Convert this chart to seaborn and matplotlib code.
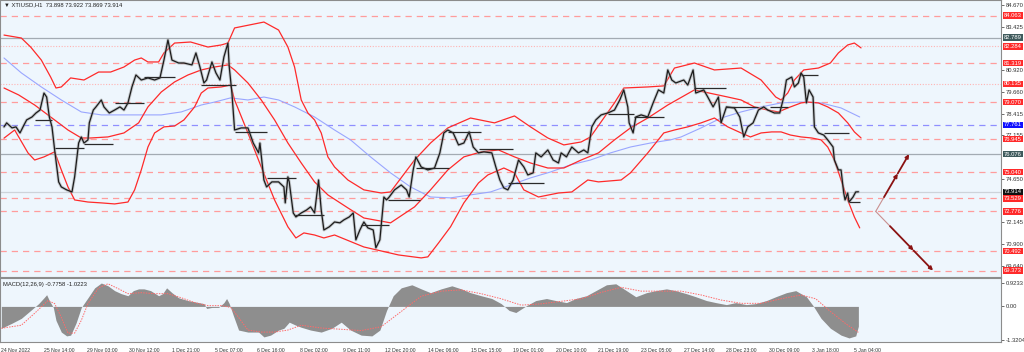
import numpy as np
import pandas as pd
import matplotlib
matplotlib.use("Agg")
import matplotlib.pyplot as plt
import seaborn as sns
from matplotlib.transforms import blended_transform_factory

# ---------------- data ----------------
title_text = "\u25bc XTIUSD,H1  73.898 73.922 73.869 73.914"
macd_text = "MACD(12,26,9) -0.7758 -1.0223"

date_labels = ["24 Nov 2022", "25 Nov 14:00", "29 Nov 03:00", "30 Nov 12:00", "1 Dec 21:00",
               "5 Dec 07:00", "6 Dec 16:00", "8 Dec 02:00", "9 Dec 11:00", "12 Dec 20:00",
               "14 Dec 06:00", "15 Dec 15:00", "19 Dec 01:00", "20 Dec 10:00", "21 Dec 19:00",
               "23 Dec 05:00", "27 Dec 14:00", "28 Dec 23:00", "30 Dec 09:00", "3 Jan 18:00",
               "5 Jan 04:00"]
date_ticks = [0, 32, 64, 96, 128, 160, 192, 224, 256, 288, 320, 352, 384, 416, 448, 480,
              512, 544, 576, 608, 640]

close_bar = [2, 4, 8, 11, 14, 17, 19, 23, 26, 29, 32, 34, 36, 38, 40, 43, 45, 49, 53, 55,
             58, 60, 62, 65, 66, 69, 71, 75, 77, 81, 85, 89, 92, 95, 98, 101, 105, 110, 115, 119,
             122, 125, 128, 133, 137, 143, 146, 149, 152, 154, 158, 161, 164, 167, 170, 171, 173, 175, 180, 185,
             189, 193, 194, 197, 199, 203, 208, 212, 213, 215, 216, 219, 221, 225, 229, 232, 235, 238, 240, 242,
             246, 250, 254, 257, 261, 264, 266, 269, 272, 275, 279, 281, 284, 287, 289, 291, 295, 300, 304, 306,
             309, 311, 315, 320, 325, 329, 332, 335, 339, 343, 347, 351, 354, 358, 362, 368, 371, 374, 377, 380,
             384, 388, 392, 395, 399, 401, 405, 410, 414, 418, 420, 424, 428, 433, 437, 440, 443, 446, 450, 455,
             460, 464, 467, 470, 471, 474, 476, 480, 485, 489, 493, 497, 500, 503, 506, 512, 515, 519, 521, 527,
             530, 534, 538, 540, 544, 550, 554, 557, 560, 564, 568, 572, 575, 580, 584, 587, 589, 593, 595, 598,
             600, 602, 604, 606, 609, 610, 613, 617, 620, 624, 625, 628, 630, 632, 633, 635, 636, 639, 641, 643]
close_price = [77.65, 77.88, 77.59, 77.65, 77.30, 77.76, 78.05, 78.22, 78.45, 78.62, 79.60, 79.37, 78.22, 77.65, 76.32, 74.48, 74.19, 74.02, 73.90, 74.77,
               76.72, 77.07, 76.72, 76.90, 77.88, 78.62, 78.80, 79.20, 78.80, 78.45, 78.62, 78.80, 78.62, 79.03, 79.95, 80.64, 80.35, 80.47, 80.35, 80.47,
               81.50, 82.66, 81.50, 81.33, 81.33, 81.22, 81.91, 81.10, 80.18, 80.35, 81.39, 80.76, 80.35, 81.68, 82.48, 81.10, 79.60, 77.47, 77.59, 77.59,
               76.72, 76.15, 76.72, 74.59, 74.19, 74.48, 74.48, 74.19, 73.27, 74.77, 74.48, 72.69, 72.46, 72.69, 72.86, 73.04, 72.69, 74.59, 72.86, 71.71,
               71.89, 72.17, 72.12, 72.29, 72.46, 72.69, 71.14, 71.71, 72.17, 71.83, 71.71, 70.68, 71.14, 73.61, 73.44, 73.61, 74.02, 74.30, 74.02, 73.61,
               75.17, 75.92, 75.34, 75.17, 75.28, 76.15, 77.30, 77.47, 77.30, 76.61, 76.72, 77.36, 76.49, 76.15, 76.21, 76.15, 75.34, 74.59, 74.13, 74.02,
               74.59, 75.74, 75.34, 74.88, 75.00, 76.15, 75.92, 76.32, 75.74, 75.57, 76.15, 75.92, 76.49, 76.15, 76.32, 76.15, 77.65, 78.05, 78.34, 78.45,
               78.62, 79.20, 79.78, 78.80, 77.88, 77.30, 78.22, 78.34, 78.22, 79.03, 79.78, 79.60, 80.93, 80.35, 80.18, 80.35, 80.06, 80.93, 79.60, 79.78,
               79.37, 78.80, 79.37, 77.88, 78.80, 78.74, 78.22, 77.07, 77.65, 77.88, 78.62, 78.80, 78.62, 78.45, 78.45, 79.37, 80.35, 80.52, 79.95, 80.18,
               80.76, 80.52, 79.03, 79.78, 79.37, 77.65, 77.30, 77.18, 76.90, 76.49, 75.74, 75.17, 75.17, 73.84, 73.44, 73.84, 73.32, 73.61, 73.90, 73.91]

upper_bar = [2, 15, 22, 30, 37, 41, 45, 52, 62, 73, 82, 92, 100, 105, 110, 118, 122, 130, 142, 155,
             165, 170, 175, 197, 208, 215, 220, 225, 230, 235, 240, 245, 250, 260, 272, 285, 292, 310, 322, 335,
             352, 370, 385, 397, 410, 422, 435, 442, 452, 460, 467, 485, 497, 505, 520, 535, 555, 570, 581, 585,
             590, 595, 602, 613, 622, 628, 635, 640, 645]
upper_price = [82.94, 82.77, 82.25, 81.50, 80.52, 79.89, 79.95, 80.47, 80.35, 80.81, 80.81, 81.10, 81.50, 81.62, 81.39, 81.39, 81.91, 82.48, 82.54, 82.25,
               82.37, 82.48, 83.35, 83.69, 83.23, 82.25, 81.10, 79.20, 78.45, 78.05, 77.30, 75.92, 75.34, 74.59, 74.02, 73.84, 73.90, 75.74, 76.72, 77.59,
               78.16, 77.88, 78.28, 77.65, 77.01, 76.61, 76.78, 77.07, 78.16, 79.03, 79.89, 79.95, 80.01, 81.04, 81.33, 80.93, 81.04, 80.35, 79.37, 79.20,
               79.60, 80.35, 80.93, 81.04, 81.33, 81.91, 82.37, 82.48, 82.20]

mid_bar = [2, 13, 25, 37, 50, 60, 67, 80, 92, 103, 110, 120, 130, 140, 150, 160, 170, 175, 185, 195,
           205, 215, 225, 235, 245, 260, 272, 292, 310, 322, 335, 347, 360, 373, 385, 397, 410, 422, 435, 448,
           460, 472, 485, 500, 520, 545, 555, 565, 575, 583, 590, 600, 605, 613, 620, 628, 635, 640, 645]
mid_price = [79.89, 79.49, 78.91, 78.22, 77.47, 77.01, 77.01, 77.07, 77.30, 77.88, 78.80, 79.66, 80.24, 80.64, 80.93, 81.10, 81.22, 80.93, 80.18, 79.20,
             78.05, 76.72, 75.57, 74.48, 73.73, 72.98, 72.40, 72.12, 73.04, 74.02, 75.17, 75.92, 76.21, 76.32, 75.92, 75.57, 75.28, 75.28, 75.74, 76.15,
             76.90, 77.59, 78.16, 78.91, 79.78, 79.37, 79.20, 78.80, 78.62, 78.51, 78.74, 79.03, 79.08, 79.03, 78.80, 78.45, 77.88, 77.36, 77.01]

lower_bar = [2, 10, 20, 25, 32, 40, 45, 50, 55, 65, 75, 85, 95, 100, 105, 110, 115, 122, 130, 137,
             145, 150, 155, 165, 172, 175, 185, 195, 205, 215, 221, 227, 235, 242, 250, 272, 298, 315, 320, 328,
             337, 347, 358, 365, 377, 385, 392, 403, 418, 428, 440, 448, 465, 472, 485, 497, 505, 515, 525, 535,
             545, 555, 562, 570, 578, 585, 592, 600, 608, 615, 620, 625, 630, 635, 640, 644]
lower_price = [77.00, 77.47, 76.15, 75.74, 75.92, 76.21, 75.17, 74.19, 73.44, 73.32, 73.27, 73.21, 73.32, 74.02, 75.17, 76.49, 77.30, 77.65, 77.70, 78.05,
               78.80, 79.60, 79.89, 79.95, 80.06, 79.20, 77.30, 75.34, 73.44, 71.89, 71.25, 71.54, 71.42, 71.25, 71.42, 70.73, 70.27, 70.10, 70.16, 70.96,
               71.89, 73.27, 74.42, 74.88, 75.28, 75.00, 74.02, 73.61, 73.84, 73.90, 74.59, 74.48, 74.59, 75.00, 76.15, 77.30, 77.47, 77.65, 77.88, 78.16,
               77.65, 77.30, 77.07, 77.30, 77.36, 77.36, 77.18, 77.07, 77.01, 76.90, 76.49, 75.74, 74.59, 73.44, 72.46, 71.83]

ma_bar = [2, 15, 30, 45, 60, 75, 90, 105, 120, 135, 150, 160, 172, 185, 197, 208, 220, 235, 250, 262,
          277, 292, 307, 322, 337, 352, 367, 382, 397, 412, 427, 442, 457, 472, 487, 502, 510, 525, 540, 555,
          570, 585, 600, 615, 630, 644]
ma_price = [81.62, 80.76, 79.95, 79.20, 78.51, 78.34, 78.34, 78.34, 78.34, 78.51, 78.91, 79.08, 79.32, 79.20, 79.37, 79.20, 78.80, 78.22, 77.47, 76.90,
            75.92, 75.00, 74.19, 73.61, 73.56, 73.73, 73.90, 74.30, 74.71, 75.05, 75.46, 75.74, 76.15, 76.49, 76.72, 76.90, 77.07, 77.59, 78.16, 78.51,
            78.80, 79.03, 79.08, 79.03, 78.74, 78.22]

seg_start = [25, 40, 62, 85, 107, 150, 175, 199, 220, 270, 290, 311, 335, 358, 380, 455, 475, 520, 544, 577, 600, 617, 636]
seg_end = [38, 62, 84, 107, 130, 176, 199, 221, 242, 291, 314, 336, 360, 384, 407, 475, 497, 544, 568, 590, 613, 636, 644]
seg_price = [78.05, 76.44, 76.67, 79.03, 80.52, 80.06, 77.36, 74.71, 72.58, 72.00, 73.44, 75.28, 77.36, 76.38, 74.42, 78.39, 78.22, 79.89, 78.80, 78.80,
             80.64, 77.30, 73.32]

level_price = [84.063, 82.789, 82.284, 81.319, 80.135, 79.070, 77.761, 76.945, 76.076, 75.040, 73.914, 73.529, 72.776, 70.492, 69.373]
level_kind = ["red", "gray", "dot", "red", "dot", "red", "blue", "red", "gray", "red", "cur", "red", "red", "red", "red"]

axis_labels = [84.670, 83.425, 80.920, 79.660, 78.415, 77.155, 74.650, 72.145, 70.900, 69.640]

arrow_start = (656, 72.78)
arrow_up_end = (681, 76.08)
arrow_down_end = (699, 69.37)

macd_bar = [0, 8, 15, 22, 28, 32, 34, 36, 39, 41, 45, 49, 52, 56, 60, 65, 70, 75, 80, 85,
            90, 95, 99, 103, 107, 112, 118, 121, 124, 128, 133, 140, 148, 152, 154, 158, 163, 167, 169, 171,
            174, 178, 185, 193, 197, 202, 208, 212, 216, 221, 225, 232, 240, 248, 255, 262, 270, 278, 284, 289,
            294, 300, 308, 315, 322, 330, 338, 345, 352, 360, 368, 375, 381, 386, 394, 401, 409, 416, 424, 431,
            439, 446, 454, 461, 469, 476, 484, 491, 499, 506, 514, 521, 529, 536, 544, 551, 559, 566, 574, 581,
            589, 596, 604, 609, 615, 622, 630, 636, 641, 643]
macd_val = [-0.86, -0.66, -0.47, -0.16, 0.11, 0.34, 0.46, 0.23, -0.04, -0.55, -1.01, -1.16, -1.13, -0.66, -0.04, 0.34, 0.73, 0.92, 0.81, 0.62,
            0.50, 0.42, 0.62, 0.69, 0.69, 0.62, 0.42, 0.50, 0.73, 0.54, 0.34, 0.23, 0.15, 0.11, -0.08, -0.04, -0.04, 0.15, 0.31, 0.11,
            -0.35, -0.93, -1.01, -1.01, -1.20, -1.13, -0.93, -0.86, -0.62, -0.74, -0.82, -0.93, -1.01, -0.86, -0.62, -0.93, -1.13, -1.16, -0.93, -0.16,
            0.42, 0.73, 0.85, 0.69, 0.54, 0.69, 0.81, 0.69, 0.54, 0.42, 0.31, 0.11, -0.16, -0.24, 0.03, 0.23, 0.31, 0.23, 0.15, 0.31,
            0.42, 0.62, 0.85, 0.89, 0.62, 0.38, 0.54, 0.62, 0.69, 0.62, 0.50, 0.38, 0.23, 0.15, 0.07, 0.15, 0.07, 0.11, 0.23, 0.38,
            0.54, 0.62, 0.38, 0.03, -0.47, -0.86, -1.13, -1.24, -1.16, -0.78]

signal_bar = [0, 15, 25, 35, 40, 45, 50, 55, 60, 65, 73, 80, 88, 95, 105, 115, 125, 135, 145, 155,
              165, 172, 178, 185, 195, 205, 215, 225, 240, 255, 270, 285, 300, 315, 330, 345, 360, 375, 390, 405,
              420, 435, 450, 465, 480, 495, 510, 525, 540, 555, 570, 585, 600, 611, 622, 634, 643]
signal_val = [-0.86, -0.74, -0.27, 0.23, 0.11, -0.43, -1.05, -1.05, -0.55, 0.11, 0.73, 0.89, 0.69, 0.50, 0.54, 0.50, 0.50, 0.34, 0.15, 0.03,
              0.03, -0.04, -0.43, -0.93, -1.01, -1.01, -0.93, -0.74, -0.85, -0.90, -0.95, -0.80, -0.20, 0.40, 0.60, 0.65, 0.50, 0.30, 0.05, 0.10,
              0.20, 0.30, 0.55, 0.75, 0.60, 0.60, 0.60, 0.45, 0.25, 0.12, 0.12, 0.30, 0.45, 0.30, -0.20, -0.70, -1.02]
macd_labels = [0.9233, 0.0, -1.3204]

# ---------------- style ----------------
sns.set_style("white")
plt.rcParams["font.family"] = ["Liberation Sans", "DejaVu Sans"]

BG = "#eef6fd"
RED = "#ff2a2a"
fs = 4.2
fsx = 3.7

fig = plt.figure(figsize=(10.24, 3.52), dpi=100, facecolor="white")
ax = fig.add_axes([0.0, 1 - 277 / 352, 1001 / 1024, 277 / 352])
axm = fig.add_axes([0.0, 1 - 342 / 352, 1001 / 1024, 64 / 352], sharex=ax)

for a in (ax, axm):
    a.set_facecolor(BG)
    for s in a.spines.values():
        s.set_color("#8c8c8c")
        s.set_linewidth(0.8)

ax.set_xlim(-1, 750)
ax.set_ylim(69.0, 84.96)
axm.set_ylim(-1.40, 1.117)

# horizontal levels
for p, k in zip(level_price, level_kind):
    if k == "red":
        ax.axhline(p, color="#ff9c9c", lw=0.9, ls=(0, (5, 4)), zorder=1)
    elif k == "dot":
        ax.axhline(p, color="#ffb4b4", lw=0.8, ls=(0, (1, 1.5)), zorder=1)
    elif k == "blue":
        ax.axhline(p, color="#8f8fff", lw=0.9, ls=(0, (5, 4)), zorder=1)
    elif k == "gray":
        ax.axhline(p, color="#a3abb3", lw=0.9, zorder=1)
    else:
        ax.axhline(p, color="#cdd3da", lw=0.9, zorder=1)

# bands and moving average
sns.lineplot(x=ma_bar, y=ma_price, ax=ax, color="#9aa6ff", lw=0.8, estimator=None, sort=False, zorder=2)
for bx, by in ((upper_bar, upper_price), (mid_bar, mid_price), (lower_bar, lower_price)):
    sns.lineplot(x=bx, y=by, ax=ax, color=RED, lw=0.9, estimator=None, sort=False, zorder=3)

# price
sns.lineplot(x=close_bar, y=close_price, ax=ax, color="#9a9a9a", lw=2.2, alpha=0.5,
             estimator=None, sort=False, zorder=4)
sns.lineplot(x=close_bar, y=close_price, ax=ax, color="#1c1c1c", lw=0.9,
             estimator=None, sort=False, zorder=5)

# pivot segments
ax.hlines(seg_price, seg_start, seg_end, color="#2a2a2a", lw=0.9, zorder=6)

# arrows
def arrow(a0, a1):
    x0, y0 = a0
    x1, y1 = a1
    f1, f2 = 0.25, 0.66
    p1 = (x0 + (x1 - x0) * f1, y0 + (y1 - y0) * f1)
    p2 = (x0 + (x1 - x0) * f2, y0 + (y1 - y0) * f2)
    ax.plot([x0, p1[0]], [y0, p1[1]], color="#c99090", lw=0.8, zorder=7)
    ax.annotate("", xy=p2, xytext=p1,
                arrowprops=dict(arrowstyle="-|>", color="#8a1212", lw=1.3, mutation_scale=5,
                                shrinkA=0, shrinkB=0), zorder=7)
    ax.annotate("", xy=(x1, y1), xytext=p2,
                arrowprops=dict(arrowstyle="-|>", color="#8a1212", lw=1.3, mutation_scale=5,
                                shrinkA=0, shrinkB=0), zorder=7)

arrow(arrow_start, arrow_up_end)
arrow(arrow_start, arrow_down_end)

# right-side axis labels
ax.yaxis.tick_right()
ax.set_yticks(axis_labels)
ax.set_yticklabels([f"{v:.3f}" for v in axis_labels], fontsize=fs, color="#333333")
ax.tick_params(axis="y", length=2, width=0.6, pad=1.2, colors="#555555", labelcolor="#333333")
ax.tick_params(axis="x", bottom=False, labelbottom=False)
ax.set_xlabel("")
ax.set_ylabel("")

tr = blended_transform_factory(ax.transAxes, ax.transData)
box_colors = {"red": RED, "dot": RED, "blue": "#1010ff", "gray": "#3f5a5c", "cur": "#111111"}
for p, k in zip(level_price, level_kind):
    ax.text(1.003, p, f"{p:.3f}", transform=tr, fontsize=fs, color="white", va="center", ha="left",
            bbox=dict(boxstyle="square,pad=0.12", fc=box_colors[k], ec="none"), zorder=10, clip_on=False)

ax.text(0.004, 0.992, title_text, transform=ax.transAxes, fontsize=fs, color="#222222", va="top", ha="left")

# MACD panel
axm.fill_between(macd_bar, 0, macd_val, color="#8e8e8e", lw=0, zorder=2)
sns.lineplot(x=signal_bar, y=signal_val, ax=axm, color="#ff6a6a", lw=0.7, ls=(0, (1.5, 1.2)),
             estimator=None, sort=False, zorder=3)
axm.yaxis.tick_right()
axm.set_yticks(macd_labels)
axm.set_yticklabels(["0.9233", "0.00", "-1.3204"], fontsize=fs, color="#333333")
axm.tick_params(axis="y", length=2, width=0.6, pad=1.2, colors="#555555", labelcolor="#333333")
axm.set_ylabel("")
axm.text(0.003, 0.94, macd_text, transform=axm.transAxes, fontsize=fs, color="#222222", va="top", ha="left")

axm.set_xticks(date_ticks)
axm.set_xticklabels(date_labels, fontsize=fsx, color="#333333", ha="left")
axm.tick_params(axis="x", length=3, width=0.6, pad=1.2, colors="#555555", labelcolor="#333333")
axm.set_xlabel("")

fig.savefig("out.png", dpi=100, facecolor="white")
